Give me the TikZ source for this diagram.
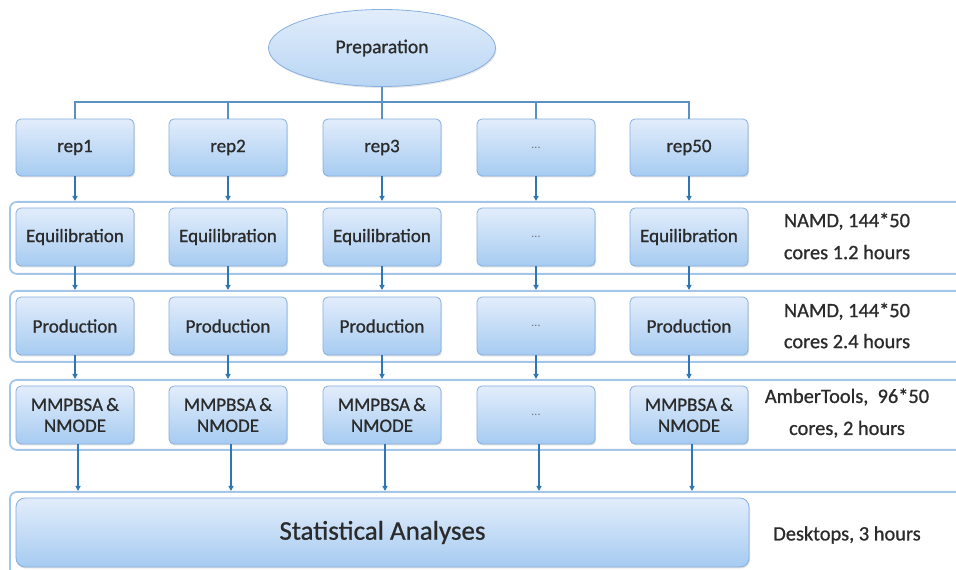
\documentclass[tikz,border=0pt]{standalone}
\usepackage{fontspec}
\setmainfont{Carlito}
\newfontfamily\boxfont{Carlito}[RawFeature={embolden=0.8}]
\usetikzlibrary{shapes.geometric,shadings,shadows,arrows.meta}
\definecolor{boxtop}{HTML}{E2EDFB}
\definecolor{boxbot}{HTML}{A6CBF1}
\definecolor{boxline}{HTML}{86B0E0}
\definecolor{bandline}{HTML}{A3C6E8}
\definecolor{conn}{HTML}{2F76B5}
\definecolor{txt}{HTML}{2B2B2B}
\tikzset{
  stepbox/.style={rectangle, rounded corners=5bp, draw=boxline, line width=0.8bp,
    top color=boxtop, bottom color=boxbot, minimum width=118bp, minimum height=57bp,
    text=txt, font=\boxfont\fontsize{19bp}{21bp}\selectfont, align=center, inner sep=2bp,
    drop shadow={shadow xshift=1bp, shadow yshift=-1.5bp, opacity=0.25}},
  dotsbox/.style={stepbox, text=black!55, font=\fontsize{12bp}{14bp}\selectfont},
  band/.style={rectangle, rounded corners=7bp, draw=bandline, line width=1.8bp, fill=white, inner sep=0pt},
  conn/.style={draw=conn, line width=1.8bp, -{Triangle[length=5bp,width=5bp]}},
  busline/.style={draw=conn!80, line width=1.4bp},
  note/.style={text=txt, font=\boxfont\fontsize{20.4bp}{24bp}\selectfont, align=center},
}
\begin{document}
\begin{tikzpicture}[x=1bp,y=1bp]
\useasboundingbox (0,0) rectangle (956,570);
\clip (0,0) rectangle (956,570);
% bands
\node[band, minimum width=980bp, minimum height=72bp, anchor=north west] (bandE) at (9,369) {};
\node[band, minimum width=980bp, minimum height=71bp, anchor=north west] (bandP) at (9,280) {};
\node[band, minimum width=980bp, minimum height=70bp, anchor=north west] (bandM) at (9,191) {};
\node[band, minimum width=980bp, minimum height=90bp, anchor=north west] (bandS) at (9,79) {};
% preparation
\node[ellipse, draw=boxline, line width=0.8bp, top color=boxtop, bottom color=boxbot!80!white,
  minimum width=227bp, minimum height=77bp, text=txt, font=\boxfont\fontsize{19.5bp}{22bp}\selectfont,
  drop shadow={shadow xshift=1bp, shadow yshift=-1.5bp, opacity=0.2}] (prep) at (382,522) {Preparation};
\coordinate (bus) at (382,468);
% reps
\node[stepbox] (r1) at (75,422.5) {rep1};
\node[stepbox] (r2) at (228,422.5) {rep2};
\node[stepbox] (r3) at (382,422.5) {rep3};
\node[dotsbox] (r4) at (536,422.5) {...};
\node[stepbox] (r5) at (689,422.5) {rep50};
% equilibration
\node[stepbox, minimum height=58bp] (e1) at (75,333) {Equilibration};
\node[stepbox, minimum height=58bp] (e2) at (228,333) {Equilibration};
\node[stepbox, minimum height=58bp] (e3) at (382,333) {Equilibration};
\node[dotsbox, minimum height=58bp] (e4) at (536,333) {...};
\node[stepbox, minimum height=58bp] (e5) at (689,333) {Equilibration};
% production
\node[stepbox, minimum height=58bp] (p1) at (75,244) {Production};
\node[stepbox, minimum height=58bp] (p2) at (228,244) {Production};
\node[stepbox, minimum height=58bp] (p3) at (382,244) {Production};
\node[dotsbox, minimum height=58bp] (p4) at (536,244) {...};
\node[stepbox, minimum height=58bp] (p5) at (689,244) {Production};
% mmpbsa
\node[stepbox, minimum height=58bp] (m1) at (75,155) {MMPBSA\,\&\\NMODE};
\node[stepbox, minimum height=58bp] (m2) at (228,155) {MMPBSA\,\&\\NMODE};
\node[stepbox, minimum height=58bp] (m3) at (382,155) {MMPBSA\,\&\\NMODE};
\node[dotsbox, minimum height=58bp] (m4) at (536,155) {...};
\node[stepbox, minimum height=58bp] (m5) at (689,155) {MMPBSA\,\&\\NMODE};
% statistics
\node[stepbox, minimum width=733bp, minimum height=69bp, rounded corners=9bp,
  font=\boxfont\fontsize{27bp}{30bp}\selectfont] (stat) at (382.5,37.5) {Statistical Analyses};
% notes
\node[note] (nE) at (847,334) {NAMD, 144*50\\[8bp]cores 1.2 hours};
\node[note] (nP) at (847,244.5) {NAMD, 144*50\\[7bp]cores 2.4 hours};
\node[note] (nM) at (847,157) {AmberTools,\ \ 96*50\\[8bp]cores, 2 hours};
\node[note] (nS) at (847,35) {Desktops, 3 hours};
% bus
\draw[busline] (prep.south) -- (bus);
\draw[busline] (r1.north) |- (bus) -| (r5.north);
\draw[busline] (r2.north) -- (r2.north |- bus);
\draw[busline] (r3.north) -- (r3.north |- bus);
\draw[busline] (r4.north) -- (r4.north |- bus);
% arrows
\foreach \i in {1,...,5}{
  \draw[conn] (r\i.south) -- (r\i.south |- bandE.north);
  \draw[conn] (e\i.south) -- (e\i.south |- bandP.north);
  \draw[conn] (p\i.south) -- (p\i.south |- bandM.north);
  \draw[conn] ([xshift=3bp]m\i.south) -- ([xshift=3bp]m\i.south |- bandS.north);
}
\end{tikzpicture}
\end{document}
